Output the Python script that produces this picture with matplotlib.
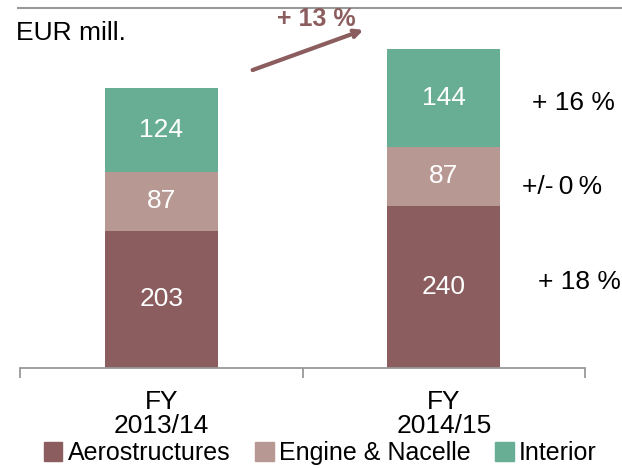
import matplotlib.pyplot as plt
from matplotlib.patches import Patch

plt.rcParams['font.family'] = ['Liberation Sans', 'DejaVu Sans']

years = ['FY\n2013/14', 'FY\n2014/15']
aero = [203, 240]
engine = [87, 87]
interior = [124, 144]
growth = ['+ 18 %', '+/-\u20090\u2009%', '+ 16 %']
total_growth = '+ 13 %'

c_aero = '#8B5D5E'
c_engine = '#B89893'
c_interior = '#67AE94'

W, H = 622, 468
fig = plt.figure(figsize=(6.22, 4.68), dpi=100)
ax = fig.add_axes([20 / W, 1 - 368 / H, 565 / W, 360 / H])

x = range(len(years))
bottom2 = [a + e for a, e in zip(aero, engine)]
b1 = ax.bar(x, aero, width=0.4, color=c_aero)
b2 = ax.bar(x, engine, width=0.4, bottom=aero, color=c_engine)
b3 = ax.bar(x, interior, width=0.4, bottom=bottom2, color=c_interior)
for bars in (b1, b2, b3):
    ax.bar_label(bars, label_type='center', color='white', fontsize=19)

ax.set_xlim(-0.5, 1.5)
ax.set_ylim(0, 532)
for s in ['top', 'right', 'left']:
    ax.spines[s].set_visible(False)
ax.spines['bottom'].set_color('#999999')
ax.spines['bottom'].set_linewidth(1.3)
ax.set_yticks([])
ax.set_xticks([-0.5, 0.5, 1.5], minor=False)
ax.set_xticklabels([])
ax.tick_params(axis='x', length=7, color='#999999', width=1.3)
ax.set_xticks(list(x), minor=True)
ax.set_xticklabels(years, minor=True, fontsize=19, linespacing=1.0)
ax.tick_params(axis='x', which='minor', length=0, pad=16)

# growth labels on the right
fig.text(579 / W, 1 - 282 / H, growth[0], fontsize=19, ha='center', va='center')
fig.text(562 / W, 1 - 187 / H, growth[1], fontsize=19, ha='center', va='center')
fig.text(573 / W, 1 - 103 / H, growth[2], fontsize=19, ha='center', va='center')

fig.text(16 / W, 1 - 33 / H, 'EUR mill.', fontsize=19, ha='left', va='center')

# total growth arrow
fig.text(316 / W, 1 - 19 / H, total_growth, fontsize=18, fontweight='bold',
         color=c_aero, ha='center', va='center')
fig.add_artist(plt.Line2D([18 / W, 1], [1 - 8 / H, 1 - 8 / H], color='#999999', lw=1.5))
ax.annotate('', xy=(366 / W, 1 - 29 / H), xytext=(250 / W, 1 - 71 / H),
            xycoords='figure fraction', textcoords='figure fraction',
            arrowprops=dict(arrowstyle='->', color=c_aero, lw=3, mutation_scale=12))

handles = [Patch(color=c_aero), Patch(color=c_engine), Patch(color=c_interior)]
fig.legend(handles, ['Aerostructures', 'Engine & Nacelle', 'Interior'],
           loc='lower center', bbox_to_anchor=(0.515, -0.042), ncol=3, frameon=False,
           fontsize=18, handlelength=0.75, handleheight=0.75, handletextpad=0.2,
           columnspacing=1.0)

plt.savefig('out.png', dpi=100)
